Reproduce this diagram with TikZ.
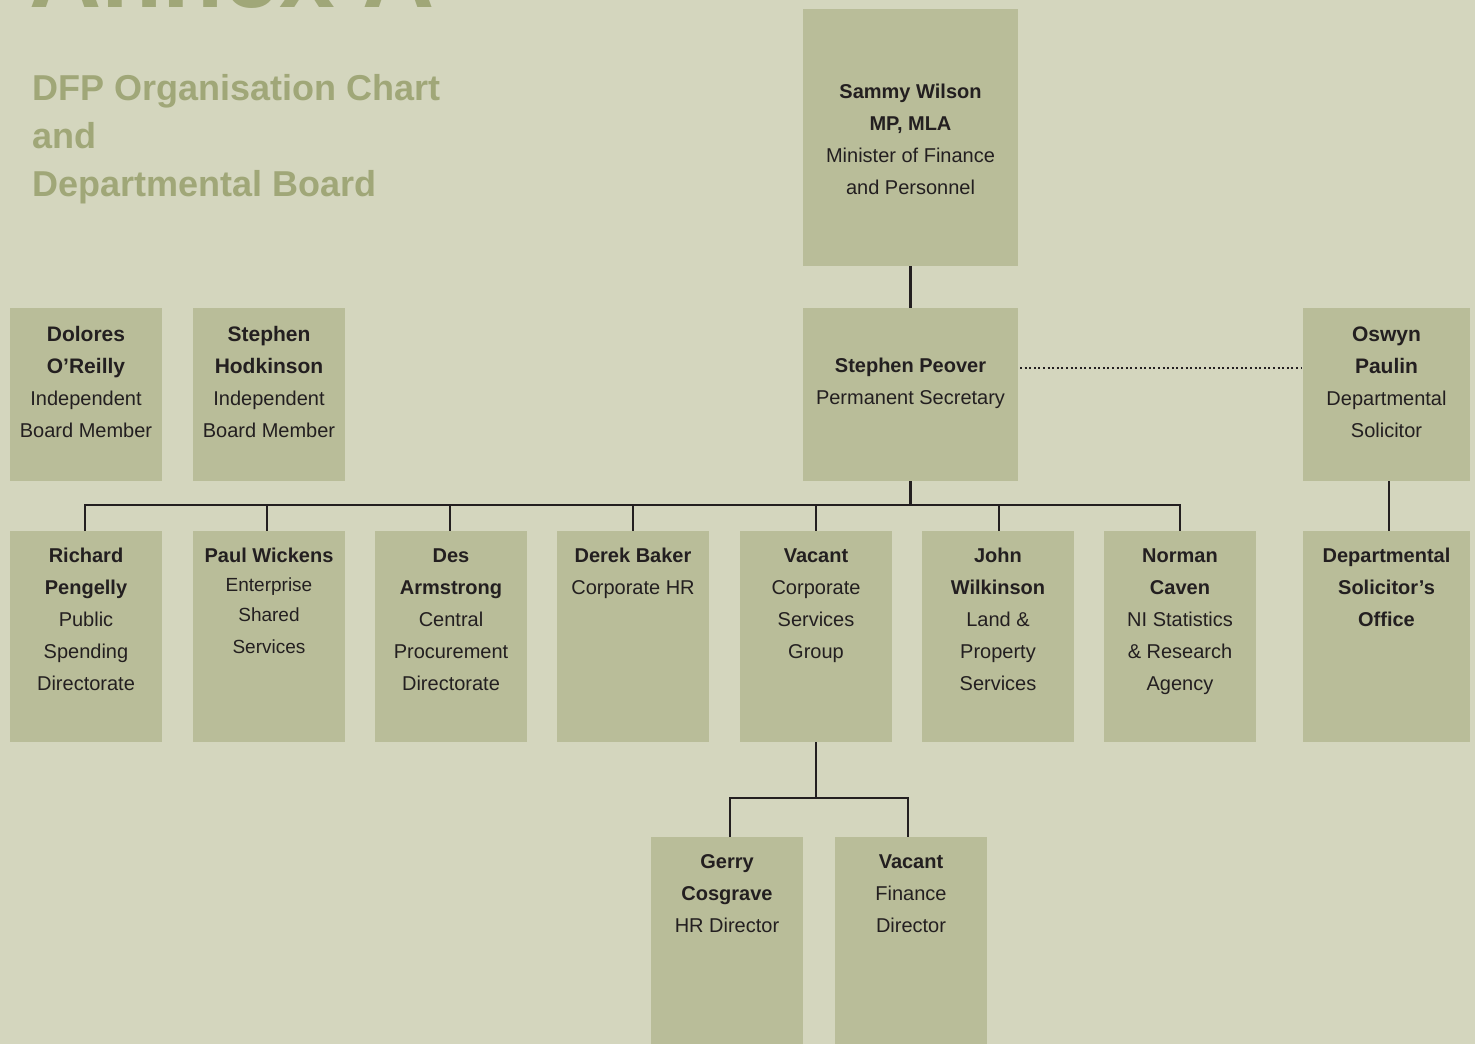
\documentclass[tikz,border=0pt]{standalone}
\usepackage{fontspec}
\setmainfont{Liberation Sans}
\definecolor{bgc}{HTML}{D4D6BE}
\definecolor{boxc}{HTML}{B9BD99}
\definecolor{titc}{HTML}{A0A778}
\definecolor{inkc}{HTML}{231F20}
\newcommand{\bx}[4]{\parbox[t][#2pt][t]{#1pt}{\centering\rule{0pt}{#3pt}#4\par}}
\newcommand{\nm}[1]{{\bfseries #1}}
\tikzset{
  orgbox/.style={fill=boxc, inner sep=0pt, outer sep=0pt, anchor=north west, text=inkc,
    font=\fontsize{20}{32}\selectfont},
  bigbox/.style={orgbox, font=\fontsize{21}{32.3}\selectfont},
  link/.style={draw=inkc, line width=2.6pt},
  dotlink/.style={draw=inkc, line width=2.3pt, dash pattern=on 2pt off 2.6pt},
}
\begin{document}
\begin{tikzpicture}[x=1pt,y=-1pt]
\useasboundingbox (0,0) rectangle (1475,1044);
\clip (0,0) rectangle (1475,1044);
\fill[bgc] (0,0) rectangle (1475,1044);
% titles
\node[anchor=base west, inner sep=0pt, text=titc, font=\fontsize{100}{100}\selectfont\bfseries] (annex) at (29,8) {Annex A};
\node[anchor=base west, inner sep=0pt, text=titc, font=\fontsize{36}{48}\selectfont\bfseries, align=left] (title) at (32,196) {DFP Organisation Chart\\and\\Departmental Board};
% top
\node[orgbox] (sw) at (803,9) {\bx{215}{257}{89}{\nm{Sammy Wilson}\\\nm{MP, MLA}\\Minister of Finance\\and Personnel}};
\node[orgbox] (sp) at (803,308) {\bx{215}{173}{64}{\nm{Stephen Peover}\\Permanent Secretary}};
\node[bigbox] (do) at (10,308) {\bx{152}{173}{33}{\nm{Dolores}\\\nm{O’Reilly}\\{\fontsize{20}{32}\selectfont Independent}\\{\fontsize{20}{32}\selectfont Board Member}}};
\node[bigbox] (sh) at (193,308) {\bx{152}{173}{33}{\nm{Stephen}\\\nm{Hodkinson}\\{\fontsize{20}{32}\selectfont Independent}\\{\fontsize{20}{32}\selectfont Board Member}}};
\node[bigbox] (op) at (1303,308) {\bx{167}{173}{33}{\nm{Oswyn}\\\nm{Paulin}\\{\fontsize{20}{32}\selectfont Departmental}\\{\fontsize{20}{32}\selectfont Solicitor}}};
% row 2
\node[orgbox] (rp) at (10,531) {\bx{152}{211}{31}{\nm{Richard}\\\nm{Pengelly}\\Public\\Spending\\Directorate}};
\node[orgbox] (pw) at (193,531) {\bx{152}{211}{31}{\nm{Paul Wickens}\\{\fontsize{19}{29.5}\selectfont Enterprise\\Shared\\Services}}};
\node[orgbox] (da) at (375,531) {\bx{152}{211}{31}{\nm{Des}\\\nm{Armstrong}\\Central\\Procurement\\Directorate}};
\node[orgbox] (db) at (557,531) {\bx{152}{211}{31}{\nm{Derek Baker}\\Corporate HR}};
\node[orgbox] (vc) at (740,531) {\bx{152}{211}{31}{\nm{Vacant}\\Corporate\\Services\\Group}};
\node[orgbox] (jw) at (922,531) {\bx{152}{211}{31}{\nm{John}\\\nm{Wilkinson}\\Land \&\\Property\\Services}};
\node[orgbox] (nc) at (1104,531) {\bx{152}{211}{31}{\nm{Norman}\\\nm{Caven}\\NI Statistics\\\& Research\\Agency}};
\node[orgbox] (dso) at (1303,531) {\bx{167}{211}{31}{\nm{Departmental}\\\nm{Solicitor’s}\\\nm{Office}}};
% bottom
\node[orgbox] (gc) at (651,837) {\bx{152}{230}{31}{\nm{Gerry}\\\nm{Cosgrave}\\HR Director}};
\node[orgbox] (vf) at (835,837) {\bx{152}{230}{31}{\nm{Vacant}\\Finance\\Director}};
% connectors
\coordinate (spn) at (910.5,308);
\draw[link] (sw.south) -- (spn);
\coordinate (bus) at (910.5,505);
\draw[link] (sp.south) -- (bus);
\draw[link] (85,531) |- (bus) -| (1180,531);
\foreach \xx in {267, 450, 633, 816, 999}
  \draw[link] (\xx,505) -- (\xx,531);
\coordinate (opb) at (1389,481);
\coordinate (dsot) at (1389,531);
\draw[link] (opb) -- (dsot);
\coordinate (bus2) at (816,798);
\draw[link] (vc.south) -- (bus2);
\draw[link] (730,837) |- (bus2) -| (908,837);
\draw[dotlink] (1020,368) -- (1302,368);
\end{tikzpicture}
\end{document}
